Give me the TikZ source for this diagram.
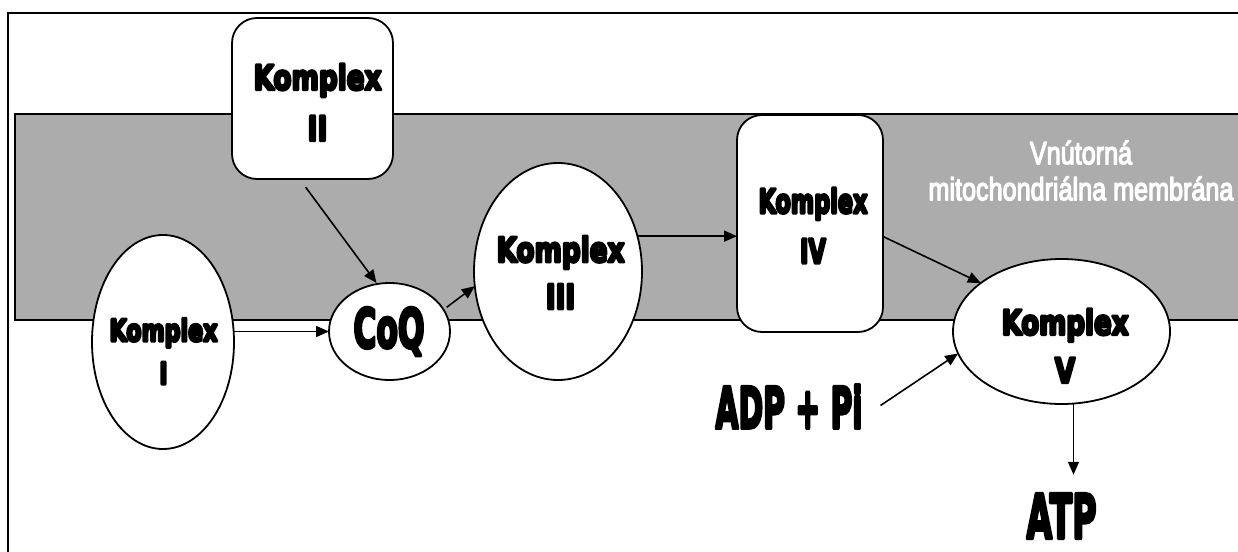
\documentclass[tikz,border=0pt]{standalone}
\usepackage{fontspec}
\usepackage{graphicx}
\usetikzlibrary{arrows.meta,shapes.geometric,calc}
\newfontfamily\heavy[UprightFont={* Bold}]{DejaVu Sans}
\newfontfamily\narrowsans{Liberation Sans}
\definecolor{memb}{RGB}{172,172,172}
\newcommand{\emb}[2]{\special{pdf:literal direct 2 Tr #1 w 1 j}#2\special{pdf:literal direct 0 Tr}}
\newcommand{\mylab}[4]{\resizebox{#1pt}{\height}{\heavy\fontsize{#2}{#3}\selectfont\emb{3}{\begin{tabular}{@{}c@{}}#4\end{tabular}}}}
\newcommand{\myword}[3]{\resizebox{#1pt}{\height}{\heavy\fontsize{#2}{#2}\selectfont\emb{3.6}{#3}}}
\begin{document}
\begin{tikzpicture}[x=1pt,y=-1pt,
  cplx/.style={draw, line width=1.8pt, fill=white, inner sep=0pt, outer sep=0pt},
  ell/.style={cplx, ellipse},
  rbox/.style={cplx, rectangle, rounded corners=25pt},
  txt/.style={inner sep=0pt, outer sep=0pt},
  arr/.style={-{Triangle[length=13pt,width=11pt]}, line width=1.6pt}]
\useasboundingbox (0,0) rectangle (1238,551);
\begin{scope}
\clip (0,0) rectangle (1238,551);
% frame and membrane
\draw[line width=2.5pt] (8,600) -- (8,13) -- (1300,13);
\fill[memb] (15,114) rectangle (1300,320);
\draw[line width=1.5pt] (1300,114) -- (15,114) -- (15,320) -- (1300,320);
\end{scope}
% complexes
\node[ell, minimum width=142pt, minimum height=214pt] (k1) at (163,342) {};
\node[rbox, minimum width=161pt, minimum height=161pt] (k2) at (312.5,98.5) {};
\node[ell, minimum width=121pt, minimum height=97pt] (coq) at (389.5,331.5) {};
\node[ell, minimum width=168pt, minimum height=217pt] (k3) at (558,271.5) {};
\node[rbox, minimum width=146pt, minimum height=217pt] (k4) at (810,223.5) {};
\node[ell, minimum width=217pt, minimum height=145pt] (k5) at (1061.5,331.5) {};
% labels
\node[txt] (t1) at (163.5,354) {\mylab{108}{30}{43}{Komplex\\I}};
\node[txt] (t2) at (317.5,105) {\mylab{128}{34}{51}{Komplex\\II}};
\node[txt] (t3) at (560.5,276) {\mylab{128}{34}{47}{Komplex\\III}};
\node[txt] (t4) at (813,228) {\mylab{109}{33}{50}{Komplex\\IV}};
\node[txt] (t5) at (1065,349) {\mylab{127}{34}{48}{Komplex\\V}};
\node[txt] (tq) at (389,331.5) {\myword{71}{54}{CoQ}};
\node[txt] (adp) at (789,406.5) {\myword{147}{57}{ADP + Pi}};
\node[txt] (atp) at (1061.5,516) {\myword{70}{61}{ATP}};
\node[txt, text=white] (mt) at (1081,175) {\resizebox{305pt}{\height}{\narrowsans\fontsize{32}{36}\selectfont\emb{1.4}{\begin{tabular}{@{}c@{}}Vnútorná\\mitochondriálna membrána\end{tabular}}}};
% arrows
\draw[arr] (coq.west -| k1.east) -- (coq.west);
\draw[arr] ([shift={(-7,8)}]k2.south) -- ([shift={(-13,0)}]coq.north);
\draw[arr, shorten <=4pt] (coq.22) -- (k3.190);
\draw[arr] (k3.24) -- (k3.24 -| k4.west);
\draw[arr] ([shift={(0,13)}]k4.east) -- (k5.149);
\draw[arr] ([shift={(18,-1)}]adp.east) -- (k5.192);
\draw[arr, shorten >=19pt] ([xshift=12pt]k5.south) -- ([xshift=12pt]k5.south |- atp.north);
\end{tikzpicture}
\end{document}
